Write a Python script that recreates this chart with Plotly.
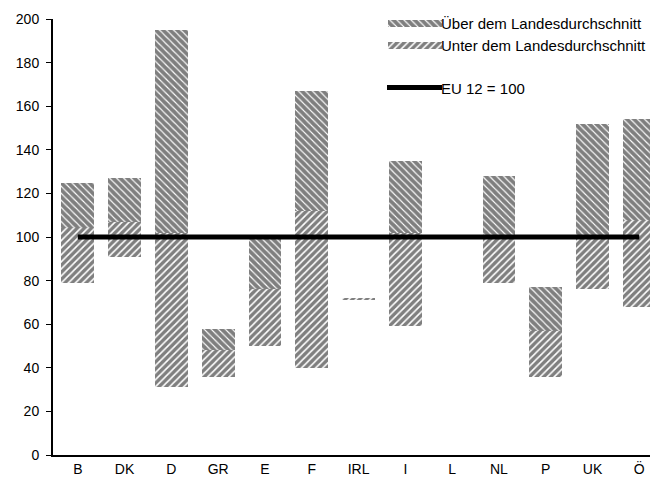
import plotly.graph_objects as go

# ---- data ----
categories = ["B", "DK", "D", "GR", "E", "F", "IRL", "I", "L", "NL", "P", "UK", "Ö"]
region_max = [125, 127, 195, 58, 99, 167, 72, 135, None, 128, 77, 152, 154]
national_avg = [104, 107, 102, 48, 76, 112, 72, 102, None, 101, 57, 101, 108]
region_min = [79, 91, 31, 36, 50, 40, 71, 59, None, 79, 36, 76, 68]
eu_level = 100
y_ticks = [0, 20, 40, 60, 80, 100, 120, 140, 160, 180, 200]

label_over = "Über dem Landesdurchschnitt"
label_under = "Unter dem Landesdurchschnitt"
label_eu = "EU 12 = 100"

FONT = "Liberation Sans, Arial, sans-serif"

over_len = [None if (a is None or m is None) else m - a for m, a in zip(region_max, national_avg)]
under_len = [None if (a is None or n is None) else a - n for a, n in zip(national_avg, region_min)]

pat_over = dict(shape="\\", fgcolor="black", bgcolor="white", size=5, solidity=0.78, fillmode="overlay")
pat_under = dict(shape="/", fgcolor="black", bgcolor="white", size=5, solidity=0.68, fillmode="overlay")

fig = go.Figure()
fig.add_trace(go.Bar(
    x=categories, y=over_len, base=national_avg, width=0.7,
    marker=dict(color="white", line=dict(width=0), pattern=pat_over),
    name=label_over, showlegend=False,
))
fig.add_trace(go.Bar(
    x=categories, y=under_len, base=region_min, width=0.7,
    marker=dict(color="white", line=dict(width=0), pattern=pat_under),
    name=label_under, showlegend=False,
))
fig.add_trace(go.Scatter(
    x=[categories[0], categories[-1]], y=[eu_level, eu_level],
    mode="lines", line=dict(color="black", width=5),
    name=label_eu, showlegend=False,
))

# page has an 8px body margin: figure origin sits at page (8, 8)
OFF = 8
# plot area in page pixels
PL, PT, PR, PB = 53, 19, 658, 455
W, H = 650, 474

sw_x0, sw_len = 388, 54
fig.add_trace(go.Bar(
    y=[23.5], x=[sw_len], base=[sw_x0], width=[7], orientation="h",
    xaxis="x2", yaxis="y2", showlegend=False, hoverinfo="skip",
    marker=dict(color="white", line=dict(width=0), pattern=pat_over),
))
fig.add_trace(go.Bar(
    y=[45], x=[sw_len], base=[sw_x0], width=[7], orientation="h",
    xaxis="x2", yaxis="y2", showlegend=False, hoverinfo="skip",
    marker=dict(color="white", line=dict(width=0), pattern=pat_under),
))
fig.add_trace(go.Scatter(
    x=[sw_x0 - 1, sw_x0 + sw_len], y=[87.5, 87.5], mode="lines",
    xaxis="x2", yaxis="y2", showlegend=False, hoverinfo="skip",
    line=dict(color="black", width=5),
))
for txt, yy in [(label_over, 23.5), (label_under, 45), (label_eu, 88)]:
    fig.add_annotation(x=sw_x0 + sw_len - 3, y=yy, xref="x2", yref="y2", text=txt,
                       showarrow=False, xanchor="left", yanchor="middle",
                       font=dict(family=FONT, size=15, color="black"))

fig.update_layout(
    width=W, height=H,
    margin=dict(l=PL - OFF, r=W - (PR - OFF), t=PT - OFF, b=H - (PB - OFF), autoexpand=False),
    paper_bgcolor="white", plot_bgcolor="white",
    barmode="overlay", bargap=0,
    font=dict(family=FONT, size=14, color="black"),
    xaxis=dict(
        type="category", range=[-0.53, 12.4], showgrid=False, zeroline=False,
        showline=True, linecolor="black", linewidth=2, automargin=False,
        ticks="", ticklabelstandoff=0,
        tickfont=dict(family=FONT, size=14, color="black"),
    ),
    yaxis=dict(
        range=[0, 200], tickvals=y_ticks, showgrid=False, zeroline=False,
        showline=True, linecolor="black", linewidth=2, automargin=False,
        ticks="outside", ticklen=5, tickwidth=1, tickcolor="black",
        ticklabelstandoff=4,
        tickfont=dict(family=FONT, size=14, color="black"),
    ),
    xaxis2=dict(overlaying="x", range=[PL, PR], visible=False, fixedrange=True),
    yaxis2=dict(overlaying="y", range=[PB, PT], visible=False, fixedrange=True),
)

fig.write_html("out.html")
